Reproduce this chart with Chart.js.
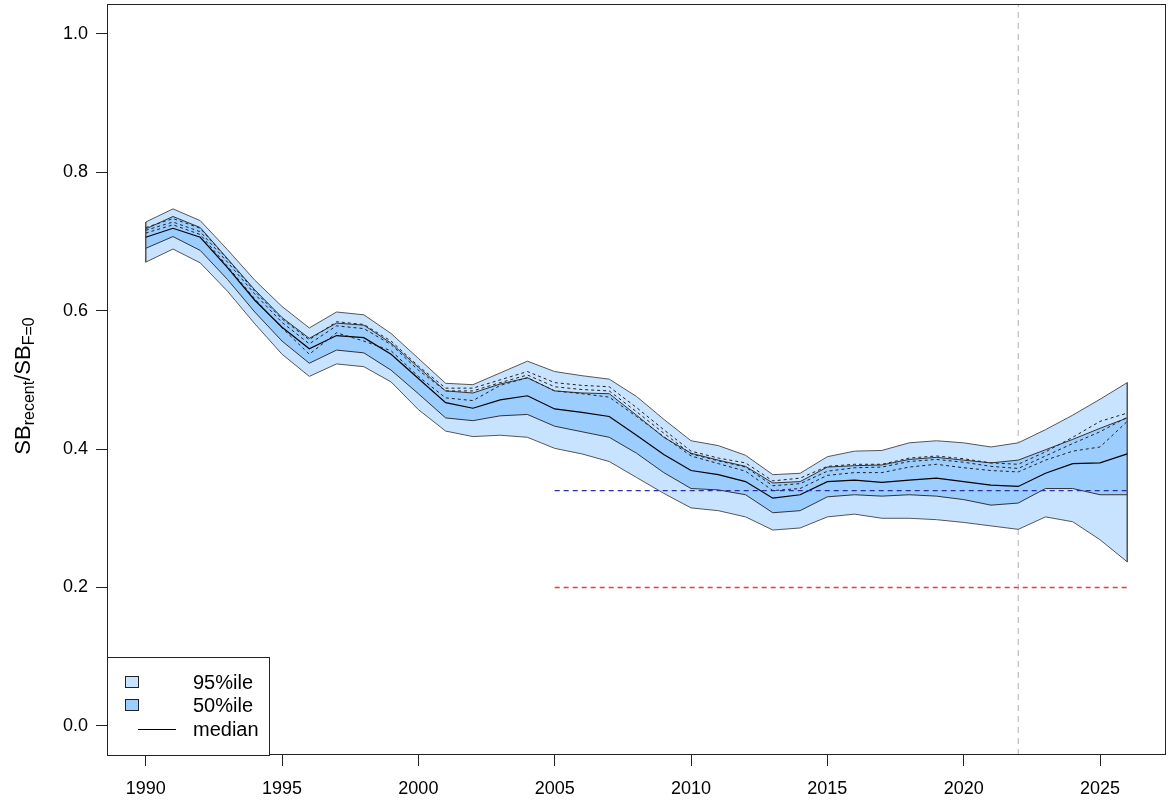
<!DOCTYPE html>
<html>
<head>
<meta charset="utf-8">
<script src="https://cdn.jsdelivr.net/npm/chart.js@4/dist/chart.umd.min.js"></script>
<style>
  body { margin: 0; background: #fff; }
  #wrap { width: 1168px; height: 805px; }
</style>
</head>
<body>
<div id="wrap"><canvas id="sbChart" width="1168" height="805"></canvas></div>
<script>
// Years of the assessment and projection
var years = [1990, 1991, 1992, 1993, 1994, 1995, 1996, 1997, 1998, 1999,
             2000, 2001, 2002, 2003, 2004, 2005, 2006, 2007, 2008, 2009,
             2010, 2011, 2012, 2013, 2014, 2015, 2016, 2017, 2018, 2019,
             2020, 2021, 2022, 2023, 2024, 2025, 2026];

// SB_recent / SB_F=0 quantiles
var upper95 = [0.728, 0.747, 0.730, 0.688, 0.644, 0.606, 0.575, 0.598, 0.594, 0.567,
               0.531, 0.495, 0.493, 0.510, 0.527, 0.512, 0.506, 0.501, 0.476, 0.443,
               0.412, 0.405, 0.391, 0.363, 0.365, 0.389, 0.397, 0.398, 0.409, 0.412,
               0.409, 0.403, 0.409, 0.428, 0.449, 0.472, 0.496];
var upper50 = [0.718, 0.736, 0.720, 0.675, 0.630, 0.590, 0.560, 0.582, 0.579, 0.553,
               0.518, 0.484, 0.481, 0.494, 0.503, 0.484, 0.481, 0.480, 0.449, 0.417,
               0.394, 0.384, 0.375, 0.351, 0.353, 0.374, 0.376, 0.377, 0.385, 0.388,
               0.384, 0.380, 0.384, 0.399, 0.414, 0.430, 0.445];
var median  = [0.706, 0.719, 0.706, 0.662, 0.615, 0.576, 0.545, 0.564, 0.561, 0.537,
               0.502, 0.467, 0.459, 0.471, 0.477, 0.458, 0.453, 0.447, 0.420, 0.392,
               0.369, 0.363, 0.353, 0.329, 0.334, 0.353, 0.355, 0.352, 0.355, 0.358,
               0.353, 0.348, 0.346, 0.365, 0.379, 0.380, 0.393];
var lower50 = [0.690, 0.707, 0.687, 0.645, 0.598, 0.556, 0.524, 0.543, 0.539, 0.514,
               0.480, 0.445, 0.441, 0.448, 0.450, 0.433, 0.425, 0.417, 0.394, 0.366,
               0.343, 0.341, 0.334, 0.308, 0.311, 0.331, 0.334, 0.332, 0.334, 0.332,
               0.327, 0.319, 0.322, 0.343, 0.343, 0.334, 0.334];
var lower95 = [0.670, 0.689, 0.669, 0.628, 0.581, 0.537, 0.505, 0.523, 0.519, 0.497,
               0.457, 0.426, 0.418, 0.420, 0.417, 0.401, 0.393, 0.382, 0.359, 0.336,
               0.315, 0.311, 0.302, 0.283, 0.286, 0.302, 0.306, 0.300, 0.300, 0.298,
               0.294, 0.289, 0.284, 0.302, 0.295, 0.269, 0.237];

// individual model runs (dotted)
var runA = [0.720, 0.733, 0.719, 0.674, 0.628, 0.588, 0.558, 0.584, 0.580, 0.556,
            0.520, 0.488, 0.488, 0.500, 0.512, 0.496, 0.492, 0.490, 0.460, 0.428,
            0.397, 0.387, 0.380, 0.354, 0.358, 0.375, 0.378, 0.378, 0.387, 0.390,
            0.386, 0.380, 0.378, 0.396, 0.417, 0.440, 0.452];
var runB = [0.716, 0.728, 0.714, 0.670, 0.624, 0.583, 0.552, 0.578, 0.574, 0.551,
            0.514, 0.484, 0.484, 0.496, 0.507, 0.490, 0.486, 0.484, 0.454, 0.423,
            0.393, 0.383, 0.374, 0.347, 0.350, 0.368, 0.373, 0.374, 0.382, 0.385,
            0.381, 0.375, 0.372, 0.390, 0.408, 0.425, 0.446];
var runC = [0.712, 0.724, 0.710, 0.664, 0.617, 0.575, 0.537, 0.568, 0.556, 0.542,
            0.505, 0.474, 0.470, 0.492, 0.503, 0.484, 0.480, 0.475, 0.447, 0.418,
            0.390, 0.379, 0.368, 0.340, 0.343, 0.362, 0.366, 0.366, 0.374, 0.378,
            0.373, 0.369, 0.367, 0.384, 0.397, 0.403, 0.440];

// reference points
var refYears = [2005, 2026];
var targetRef = 0.34;
var limitRef = 0.2;
var lastAssessYear = 2022;

// axes
var xTicks = [1990, 1995, 2000, 2005, 2010, 2015, 2020, 2025];
var yTicks = [0.0, 0.2, 0.4, 0.6, 0.8, 1.0];
var xRange = [1988.58, 2027.42];
var yRange = [-0.042, 1.043];

var legendLabels = ['95%ile', '50%ile', 'median'];

var lightBlue = 'rgb(200, 227, 255)';
var midBlue = 'rgb(155, 205, 255)';
var edgeGrey = '#555555';
var fontFam = "'Liberation Sans', Arial, Helvetica, sans-serif";

function pts(ys) {
    return years.map(function(y, i) { return { x: y, y: ys[i] }; });
}
function lineDs(data, color, width, dash, order, extra) {
    var ds = {
        data: data,
        borderColor: color,
        borderWidth: width,
        borderDash: dash || [],
        pointRadius: 0,
        tension: 0,
        fill: false,
        order: order
    };
    return Object.assign(ds, extra || {});
}

var first = 0, last = years.length - 1;

var datasets = [
    lineDs(pts(upper95), edgeGrey, 1, null, 6, { fill: 4, backgroundColor: lightBlue }),
    lineDs(pts(upper50), '#333', 1, null, 5, { fill: 3, backgroundColor: midBlue }),
    lineDs(pts(median), '#000', 1.2, null, 1),
    lineDs(pts(lower50), '#333', 1, null, 4),
    lineDs(pts(lower95), edgeGrey, 1, null, 4),
    lineDs(pts(runA), '#222', 1, [3, 3], 0),
    lineDs(pts(runB), '#222', 1, [3, 3], 0),
    lineDs(pts(runC), '#222', 1, [3, 3], 0),
    // polygon ends
    lineDs([{ x: years[first], y: upper95[first] }, { x: years[first], y: lower95[first] }], edgeGrey, 1, null, 4),
    lineDs([{ x: years[last], y: upper95[last] }, { x: years[last], y: lower95[last] }], edgeGrey, 1, null, 4),
    // reference lines
    lineDs(refYears.map(function(y) { return { x: y, y: targetRef }; }), '#2e2ea8', 1.3, [5, 4], 0),
    lineDs(refYears.map(function(y) { return { x: y, y: limitRef }; }), '#f03a3a', 1.3, [5, 4], 0),
    lineDs([{ x: lastAssessYear, y: yRange[0] }, { x: lastAssessYear, y: yRange[1] }], '#b0b0b0', 1, [6, 5], 7)
];

// box around the plot, R style
var boxPlugin = {
    id: 'boxPlugin',
    afterDraw: function(chart) {
        var a = chart.chartArea, ctx = chart.ctx;
        ctx.save();
        ctx.strokeStyle = '#222';
        ctx.lineWidth = 1;
        ctx.strokeRect(Math.round(a.left) + 0.5, Math.round(a.top) + 0.5,
                       Math.round(a.right - a.left) - 1, Math.round(a.bottom - a.top) - 1);
        ctx.restore();
    }
};

// y title with subscripts
var titlePlugin = {
    id: 'titlePlugin',
    afterDraw: function(chart) {
        var ctx = chart.ctx;
        var parts = [['SB', 22, 0], ['recent', 16, 4], ['/SB', 22, 0], ['F=0', 16, 4]];
        ctx.save();
        var total = 0;
        parts.forEach(function(p) {
            ctx.font = p[1] + 'px ' + fontFam;
            p.push(ctx.measureText(p[0]).width);
            total += p[3];
        });
        ctx.translate(30, 386);
        ctx.rotate(-Math.PI / 2);
        ctx.fillStyle = '#000';
        ctx.textBaseline = 'alphabetic';
        ctx.textAlign = 'left';
        var x = -total / 2;
        parts.forEach(function(p) {
            ctx.font = p[1] + 'px ' + fontFam;
            ctx.fillText(p[0], x, p[2]);
            x += p[3];
        });
        ctx.restore();
    }
};

// legend box in the lower left corner
var legendPlugin = {
    id: 'legendPlugin',
    afterDraw: function(chart) {
        var a = chart.chartArea, ctx = chart.ctx;
        var left = a.left, top = a.bottom - 98, w = 162, h = 98;
        ctx.save();
        ctx.fillStyle = '#fff';
        ctx.fillRect(left, top, w, h);
        ctx.strokeStyle = '#222';
        ctx.lineWidth = 1;
        ctx.strokeRect(left + 0.5, top + 0.5, w, h);
        var rowY = [top + 25, top + 48, top + 72];
        var fills = [lightBlue, midBlue];
        fills.forEach(function(c, i) {
            ctx.fillStyle = c;
            ctx.fillRect(left + 18, rowY[i] - 6, 14, 12);
            ctx.strokeStyle = '#222';
            ctx.strokeRect(left + 18.5, rowY[i] - 5.5, 13, 11);
        });
        ctx.beginPath();
        ctx.moveTo(left + 31, rowY[2] + 0.5);
        ctx.lineTo(left + 69, rowY[2] + 0.5);
        ctx.strokeStyle = '#000';
        ctx.stroke();
        ctx.fillStyle = '#000';
        ctx.font = '20px ' + fontFam;
        ctx.textBaseline = 'middle';
        legendLabels.forEach(function(t, i) {
            ctx.fillText(t, left + 86, rowY[i] + 1);
        });
        ctx.restore();
    }
};

var tickFont = { family: fontFam, size: 18 };

var sbChart = new Chart(document.getElementById('sbChart').getContext('2d'), {
    type: 'line',
    data: { datasets: datasets },
    options: {
        responsive: false,
        animation: false,
        layout: { padding: { top: 4, right: 2, left: 0, bottom: 0 } },
        plugins: {
            legend: { display: false },
            tooltip: { enabled: false },
            filler: { propagate: false }
        },
        scales: {
            x: {
                type: 'linear',
                min: xRange[0],
                max: xRange[1],
                afterBuildTicks: function(s) { s.ticks = xTicks.map(function(v) { return { value: v }; }); },
                afterFit: function(s) {
                    s.height = 50;
                    s.paddingLeft = 0;
                    s.paddingRight = 0;
                },
                grid: { drawOnChartArea: false, drawTicks: true, tickLength: 11, color: '#222' },
                border: { display: false },
                ticks: {
                    autoSkip: false, maxRotation: 0, padding: 12, color: '#000', font: tickFont,
                    callback: function(v) { return String(v); }
                }
            },
            y: {
                type: 'linear',
                min: yRange[0],
                max: yRange[1],
                afterBuildTicks: function(s) { s.ticks = yTicks.map(function(v) { return { value: v }; }); },
                afterFit: function(s) {
                    s.width = 107;
                    s.paddingTop = 0;
                    s.paddingBottom = 0;
                },
                grid: { drawOnChartArea: false, drawTicks: true, tickLength: 11, color: '#222' },
                border: { display: false },
                ticks: {
                    autoSkip: false, padding: 8, color: '#000', font: tickFont,
                    callback: function(v) { return v.toFixed(1); }
                }
            }
        }
    },
    plugins: [boxPlugin, titlePlugin, legendPlugin]
});
</script>
</body>
</html>
